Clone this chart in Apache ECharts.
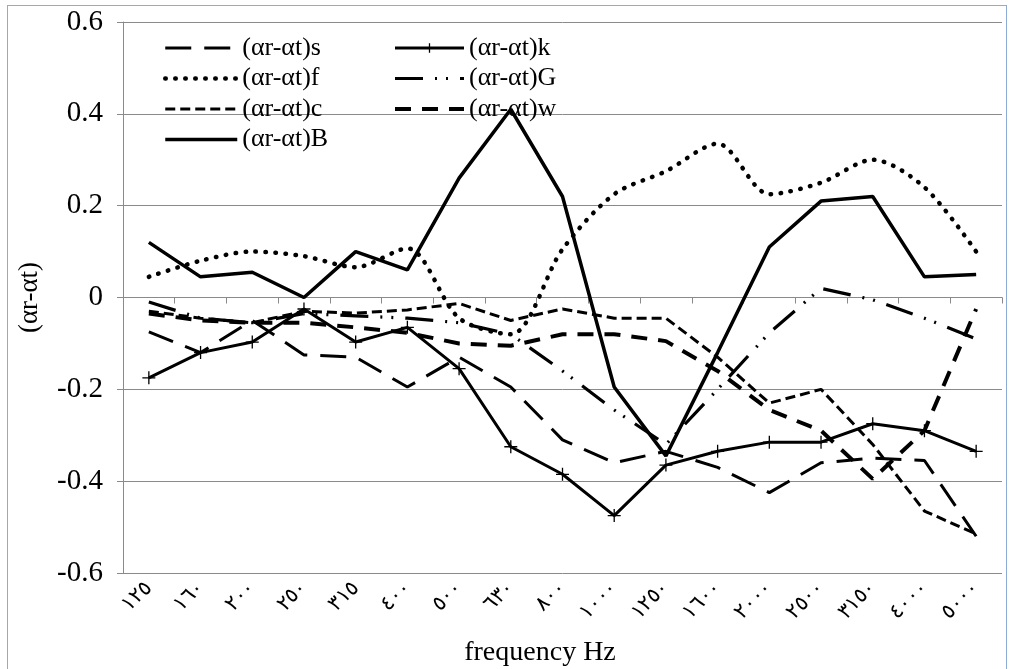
<!DOCTYPE html>
<html>
<head>
<meta charset="utf-8">
<script src="https://cdn.jsdelivr.net/npm/echarts@6/dist/echarts.min.js"></script>
<style>
  html, body { margin: 0; padding: 0; background: #ffffff; }
  #wrap { position: relative; width: 1010px; height: 669px; overflow: hidden; }
  #frame { position: absolute; left: 7px; top: 5px; width: 1000px; height: 700px; border: 1px solid #8eaad6; box-sizing: border-box; }
  #chart { position: absolute; left: 0; top: 0; width: 1010px; height: 669px; }
</style>
</head>
<body>
<div id="wrap">
  <div id="frame"></div>
  <div id="chart"></div>
</div>
<script>
// Frequency bands (Hz), written with Arabic-Indic digits
const categories = ['١٢٥','١٦٠','٢٠٠','٢٥٠','٣١٥','٤٠٠','٥٠٠','٦٣٠','٨٠٠','١٠٠٠','١٢٥٠','١٦٠٠','٢٠٠٠','٢٥٠٠','٣١٥٠','٤٠٠٠','٥٠٠٠'];

// (αr-αt) per band for each material
const seriesS = [-0.075, -0.12, -0.05, -0.125, -0.13, -0.195, -0.13, -0.195, -0.31, -0.36, -0.335, -0.37, -0.425, -0.36, -0.35, -0.355, -0.52];
const seriesF = [0.045, 0.08, 0.1, 0.09, 0.066, 0.107, -0.045, -0.08, 0.105, 0.225, 0.275, 0.335, 0.225, 0.25, 0.3, 0.24, 0.1];
const seriesC = [-0.03, -0.045, -0.055, -0.03, -0.034, -0.027, -0.013, -0.05, -0.025, -0.045, -0.045, -0.13, -0.23, -0.2, -0.32, -0.465, -0.515];
const seriesB = [0.12, 0.045, 0.055, 0.0, 0.1, 0.06, 0.26, 0.41, 0.22, -0.195, -0.345, -0.12, 0.11, 0.21, 0.22, 0.045, 0.05];
const seriesK = [-0.175, -0.12, -0.097, -0.025, -0.097, -0.065, -0.155, -0.325, -0.385, -0.475, -0.365, -0.335, -0.315, -0.315, -0.275, -0.29, -0.335];
const seriesG = [-0.01, -0.045, -0.055, -0.035, -0.04, -0.045, -0.055, -0.08, -0.16, -0.245, -0.32, -0.2, -0.077, 0.02, -0.005, -0.045, -0.09];
const seriesW = [-0.035, -0.05, -0.055, -0.055, -0.065, -0.077, -0.1, -0.105, -0.08, -0.08, -0.095, -0.16, -0.245, -0.29, -0.395, -0.29, -0.025];

const yTicks = { min: -0.6, max: 0.6, interval: 0.2 };

const SERIF = "'Liberation Serif', 'Times New Roman', 'DejaVu Serif', serif";
const AXIS_GRAY = '#8a8a8a';

// Line looks, shared by the plotted series and their legend samples
const STYLE = {
  s: { type: [26, 13], width: 3 },
  f: { type: [0.5, 9.5], cap: 'round', width: 4.5 },
  c: { type: [10, 5], width: 3 },
  B: { type: 'solid', width: 3.5 },
  k: { type: 'solid', width: 3 },
  G: { type: [28, 12, 2, 9, 2, 12], width: 3.2 },
  w: { type: [16, 11], width: 4 }
};
const PLUS = 'path://M5,0L5,10M0,5L10,5';

function lineSeries(name, data, lineStyle, extra) {
  return Object.assign({
    name: name,
    type: 'line',
    data: data,
    symbol: 'none',
    smooth: false,
    lineStyle: Object.assign({ color: '#000' }, lineStyle),
    itemStyle: { color: '#000' },
    emphasis: { disabled: true },
    animation: false
  }, extra || {});
}

function legendItem(key, withMarker) {
  return {
    name: '(αr-αt)' + key,
    lineStyle: Object.assign({ color: '#000' }, STYLE[key]),
    itemStyle: withMarker
      ? { color: '#000', borderColor: '#000', borderWidth: 1.3, opacity: 1 }
      : { opacity: 0 }
  };
}

const chart = echarts.init(document.getElementById('chart'), null, { renderer: 'canvas' });

const legendText = { fontFamily: SERIF, fontSize: 26, color: '#000', lineHeight: 26 };

chart.setOption({
  backgroundColor: 'transparent',
  animation: false,
  grid: { left: 123, right: 8, top: 22, bottom: 96, containLabel: false },
  legend: [
    {
      data: [legendItem('s'), legendItem('f'), legendItem('c'), legendItem('B')],
      orient: 'vertical', left: 163, top: 35, padding: 0,
      itemWidth: 72, itemHeight: 12, itemGap: 4.5,
      textStyle: legendText, selectedMode: false
    },
    {
      data: [legendItem('k', true), legendItem('G'), legendItem('w')],
      orient: 'vertical', left: 393, top: 35, padding: 0,
      itemWidth: 69, itemHeight: 12, itemGap: 4.5,
      textStyle: legendText, selectedMode: false
    }
  ],
  xAxis: {
    type: 'category',
    data: categories,
    boundaryGap: true,
    axisLine: { lineStyle: { color: AXIS_GRAY, width: 1 } },
    axisTick: { show: true, length: 6, lineStyle: { color: AXIS_GRAY } },
    axisLabel: { rotate: 45, margin: 12, fontSize: 21, color: '#000', fontFamily: SERIF },
    splitLine: { show: false }
  },
  yAxis: {
    type: 'value',
    min: yTicks.min, max: yTicks.max, interval: yTicks.interval,
    name: '(αr-αt)',
    nameLocation: 'middle',
    nameRotate: 90,
    nameGap: 80,
    nameTextStyle: { fontFamily: SERIF, fontSize: 27, color: '#000' },
    axisLine: { show: true, lineStyle: { color: AXIS_GRAY, width: 1 } },
    axisTick: { show: true, length: 6, lineStyle: { color: AXIS_GRAY } },
    axisLabel: {
      margin: 20, fontSize: 29, color: '#000', fontFamily: SERIF,
      formatter: function (v) { return Math.abs(v) < 1e-9 ? '0' : String(Math.round(v * 10) / 10); }
    },
    splitLine: { show: true, lineStyle: { color: AXIS_GRAY, width: 1 } }
  },
  graphic: [
    {
      type: 'text', x: 540, y: 653,
      style: { text: 'frequency Hz', font: '28px ' + SERIF, fill: '#000', align: 'center', verticalAlign: 'middle' }
    }
  ],
  series: [
    lineSeries('(αr-αt)s', seriesS, STYLE.s),
    lineSeries('(αr-αt)f', seriesF, STYLE.f, { smooth: 0.3 }),
    lineSeries('(αr-αt)c', seriesC, STYLE.c),
    lineSeries('(αr-αt)B', seriesB, STYLE.B),
    lineSeries('(αr-αt)k', seriesK, STYLE.k, {
      symbol: PLUS,
      symbolSize: 13,
      showSymbol: true,
      itemStyle: { color: '#000', borderColor: '#000', borderWidth: 1.3 }
    }),
    lineSeries('(αr-αt)G', seriesG, STYLE.G),
    lineSeries('(αr-αt)w', seriesW, STYLE.w)
  ]
});
</script>
</body>
</html>
